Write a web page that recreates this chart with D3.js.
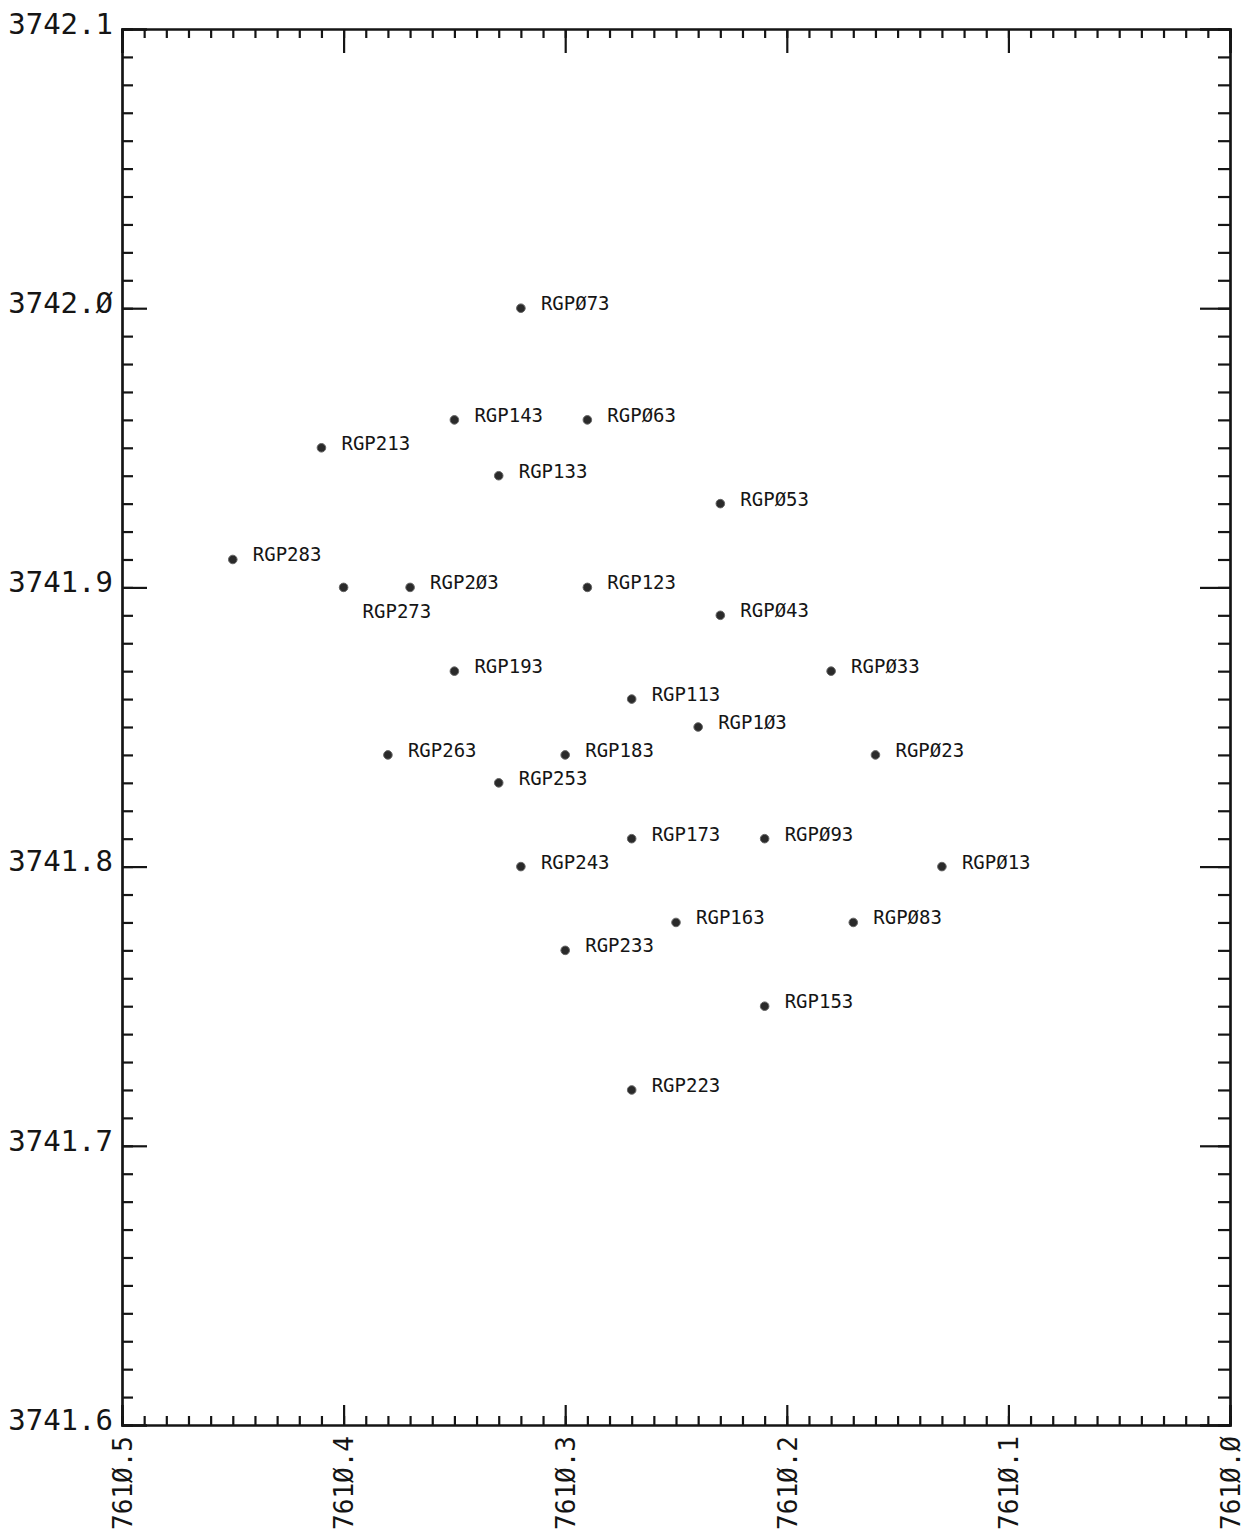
<!DOCTYPE html>
<html>
<head>
<meta charset="UTF-8">
<title>RGP station plot</title>
<script src="https://d3js.org/d3.v7.min.js"></script>
<style>
  body { margin: 0; background: #fff; }
  svg { display: block; font-family: "DejaVu Sans Mono", "Liberation Mono", monospace; }
  .axis path, .axis line { stroke: #151515; stroke-width: 2.2; }
  .axis text { fill: #151515; font-size: 29px; font-family: "DejaVu Sans Mono", "Liberation Mono", monospace; }
  .xlab text { font-size: 26px; }
  .lbl { fill: #151515; font-size: 19px; }
</style>
</head>
<body>
<svg id="chart" width="1251" height="1540"></svg>
<script>
// station names and coordinates (easting ~7610.x, northing ~3741.x)
const names = ["RGP073","RGP143","RGP063","RGP213","RGP133","RGP053","RGP283","RGP273",
  "RGP203","RGP123","RGP043","RGP193","RGP033","RGP113","RGP103","RGP263","RGP183",
  "RGP023","RGP253","RGP173","RGP093","RGP243","RGP013","RGP163","RGP083","RGP233",
  "RGP153","RGP223"];
const eastings = [7610.32,7610.35,7610.29,7610.41,7610.33,7610.23,7610.45,7610.40,
  7610.37,7610.29,7610.23,7610.35,7610.18,7610.27,7610.24,7610.38,7610.30,
  7610.16,7610.33,7610.27,7610.21,7610.32,7610.13,7610.25,7610.17,7610.30,
  7610.21,7610.27];
const northings = [3742.00,3741.96,3741.96,3741.95,3741.94,3741.93,3741.91,3741.90,
  3741.90,3741.90,3741.89,3741.87,3741.87,3741.86,3741.85,3741.84,3741.84,
  3741.84,3741.83,3741.81,3741.81,3741.80,3741.80,3741.78,3741.78,3741.77,
  3741.75,3741.72];
const labelBelow = ["RGP273"];

const xDomain = [7610.5, 7610.0];
const yDomain = [3741.6, 3742.1];

const mLeft = 122, mRight = 1230, mTop = 29, mBottom = 1425;

const svg = d3.select("#chart");

const x = d3.scaleLinear().domain(xDomain).range([mLeft, mRight]);
const y = d3.scaleLinear().domain(yDomain).range([mBottom, mTop]);

const majX = d3.range(0, 6).map(i => 7610.5 - i * 0.1);
const minX = d3.range(0, 51).map(i => 7610.5 - i * 0.01);
const majY = d3.range(0, 6).map(i => 3741.6 + i * 0.1);
const minY = d3.range(0, 51).map(i => 3741.6 + i * 0.01);

const fmt = d => d.toFixed(1).replace(/0/g, "\u00D8");

// minor ticks on all four sides
svg.append("g").attr("class", "axis").attr("transform", "translate(" + mLeft + ",0)")
  .call(d3.axisLeft(y).tickValues(minY).tickSize(-11).tickFormat(""));
svg.append("g").attr("class", "axis").attr("transform", "translate(" + mRight + ",0)")
  .call(d3.axisRight(y).tickValues(minY).tickSize(-12).tickFormat(""));
svg.append("g").attr("class", "axis").attr("transform", "translate(0," + mTop + ")")
  .call(d3.axisTop(x).tickValues(minX).tickSize(-9).tickFormat(""));
svg.append("g").attr("class", "axis").attr("transform", "translate(0," + mBottom + ")")
  .call(d3.axisBottom(x).tickValues(minX).tickSize(-9).tickFormat(""));

// major ticks
svg.append("g").attr("class", "axis").attr("transform", "translate(" + mLeft + ",0)")
  .call(d3.axisLeft(y).tickValues(majY).tickSize(-25).tickPadding(9).tickFormat(fmt))
  .selectAll("text").attr("dy", "0.15em");
svg.append("g").attr("class", "axis").attr("transform", "translate(" + mRight + ",0)")
  .call(d3.axisRight(y).tickValues(majY).tickSize(-30).tickFormat(""));
svg.append("g").attr("class", "axis").attr("transform", "translate(0," + mTop + ")")
  .call(d3.axisTop(x).tickValues(majX).tickSize(-24).tickFormat(""));
const xAx = svg.append("g").attr("class", "axis xlab").attr("transform", "translate(0," + mBottom + ")")
  .call(d3.axisBottom(x).tickValues(majX).tickSize(-20).tickFormat(fmt));
xAx.selectAll("text")
  .attr("text-anchor", "end")
  .attr("transform", "rotate(-90)")
  .attr("x", -11)
  .attr("y", 0)
  .attr("dy", "0.36em");

// stations
const pts = names.map((n, i) => ({ name: n, e: eastings[i], n: northings[i] }));
const g = svg.append("g");
g.selectAll("path.pt")
  .data(pts)
  .enter()
  .append("path")
  .attr("class", "pt")
  .attr("transform", d => "translate(" + x(d.e) + "," + y(d.n) + ")")
  .attr("d", d3.symbol(d3.symbolCircle, 58))
  .attr("fill", "#2a2a2a")
  .attr("stroke", "#666")
  .attr("stroke-width", 1);

g.selectAll("text.lbl")
  .data(pts)
  .enter()
  .append("text")
  .attr("class", "lbl")
  .attr("x", d => x(d.e) + (labelBelow.includes(d.name) ? 19 : 20))
  .attr("y", d => y(d.n) + (labelBelow.includes(d.name) ? 31 : 2))
  .text(d => d.name.replace(/0/g, "\u00D8"));
</script>
</body>
</html>
